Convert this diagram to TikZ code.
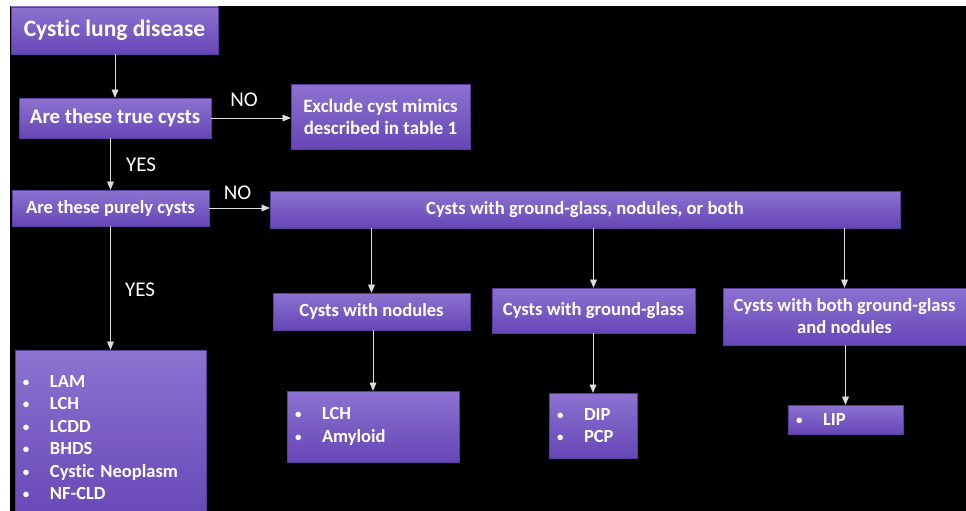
\documentclass[tikz,border=0pt]{standalone}
\usepackage{fontspec}
\setmainfont{Carlito}[Ligatures=NoCommon]
\usepackage{tikz}
\usetikzlibrary{shapes}
\usetikzlibrary{arrows}
\definecolor{boxtop}{RGB}{141,114,208}
\definecolor{boxbottom}{RGB}{102,70,182}
\definecolor{boxline}{RGB}{88,60,158}
\definecolor{flowline}{RGB}{222,222,222}
\tikzstyle{decision} = [rectangle, draw=boxline, top color=boxtop,
bottom color=boxbottom, text=white, inner sep=0pt, align=center,
font=\fontsize{18.6}{22}\selectfont\bfseries]
\tikzstyle{listbox} = [decision, align=left, inner xsep=8pt,
font=\fontsize{18.5}{22.4}\selectfont\bfseries]
\tikzstyle{answer} = [text=white, inner sep=0pt,
font=\fontsize{21}{21}\selectfont]
\tikzstyle{flow} = [->, >={triangle 45}, draw=flowline, line width=0.9pt]
\newcommand{\bitem}[1]{\makebox[27pt][l]{\raisebox{1pt}{\scalebox{0.7}{\textbullet}}}#1}
\newcommand{\flowdown}[2]{ %
  % Vertical arrow, dropped at the x of the target box.
  \draw[flow] (#1.south -| #2.north) -- (#2.north) ; %
}
\newcommand{\flowright}[2]{ %
  \draw[flow] (#1.east) -- (#1.east -| #2.west) ; %
}

\begin{document}
\begin{tikzpicture}[x=1pt,y=-1pt]

	\fill[white] (0,0) rectangle (966,511);
	\fill[black] (10,6) rectangle (966,511);
	\useasboundingbox (0,0) rectangle (966,511);

	% questions
	\node[decision, minimum width=207pt, minimum height=47pt,
	  font=\fontsize{23.5}{26}\selectfont\bfseries] (cystic) at (114.5,30.5) {Cystic lung disease};
	\node[decision, minimum width=192pt, minimum height=40pt,
	  font=\fontsize{20.8}{24}\selectfont\bfseries] (truecyst) at (115,118) {Are these true cysts};
	\node[decision, minimum width=179pt, minimum height=65pt,
	  font=\fontsize{18.9}{22}\selectfont\bfseries] (mimics) at (380.5,116.5) {Exclude cyst mimics\\described in table 1};
	\node[decision, minimum width=197pt, minimum height=36pt] (purecyst) at (110.5,208) {Are these purely cysts};
	\node[decision, minimum width=630pt, minimum height=37pt] (mixed) at (585,209.5) {Cysts with ground-glass, nodules, or both};

	% subgroups
	\node[decision, minimum width=197pt, minimum height=37pt] (nodules) at (371.5,311.5) {Cysts with nodules};
	\node[decision, minimum width=203pt, minimum height=45pt] (glass) at (593.5,310.5) {Cysts with ground-glass};
	\node[decision, minimum width=243pt, minimum height=57pt] (both) at (844.5,316.5) {Cysts with both ground-glass\\and nodules};

	% diagnoses
	\node[listbox, text width=175pt, minimum height=175pt] (purelist) at (110.5,437.5)
	  {\bitem{LAM}\\\bitem{LCH}\\\bitem{LCDD}\\\bitem{BHDS}\\\bitem{Cystic Neoplasm}\\\bitem{NF-CLD}};
	\node[listbox, text width=156pt, minimum height=71pt] (nodlist) at (373,426.5)
	  {\bitem{LCH}\\\bitem{Amyloid}};
	\node[listbox, text width=72pt, minimum height=65pt] (glasslist) at (593,425.5)
	  {\bitem{DIP}\\\bitem{PCP}};
	\node[listbox, text width=99pt, minimum height=29pt] (bothlist) at (845.5,419.5)
	  {\bitem{LIP}};

	\node[answer] (no1) at (244,100) {NO};
	\node[answer] (yes1) at (141,165) {YES};
	\node[answer] (no2) at (237.5,192.5) {NO};
	\node[answer] (yes2) at (140,290) {YES};

	\flowdown {cystic} {truecyst}
	\flowdown {truecyst} {purecyst}
	\flowdown {purecyst} {purelist}
	\flowright {truecyst} {mimics}
	\flowright {purecyst} {mixed}

	\flowdown {mixed} {nodules}
	\flowdown {mixed} {glass}
	\flowdown {mixed} {both}

	\flowdown {nodules} {nodlist}
	\flowdown {glass} {glasslist}
	\flowdown {both} {bothlist}

\end{tikzpicture}
\end{document}
